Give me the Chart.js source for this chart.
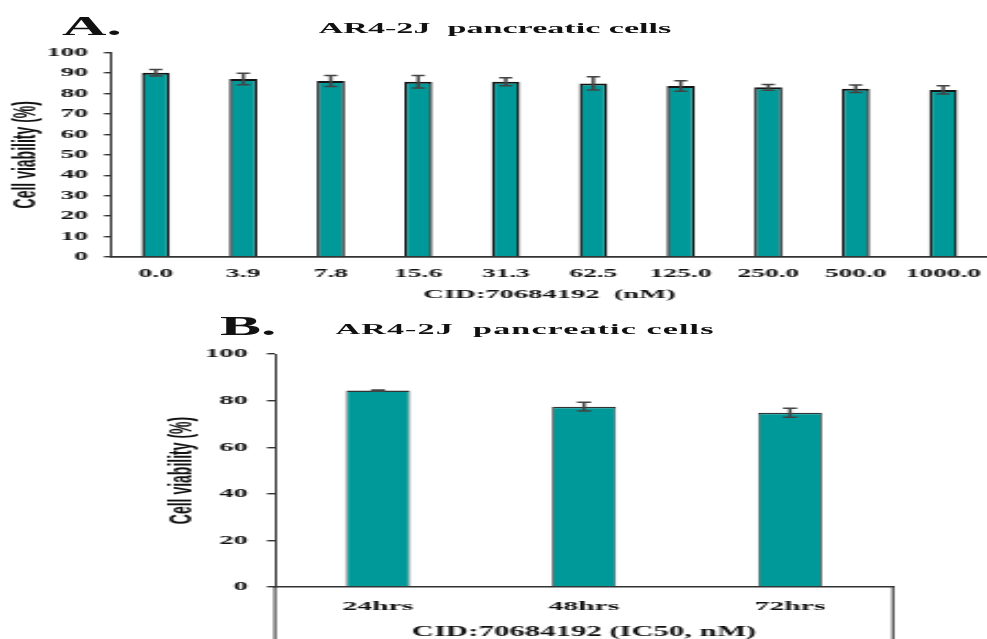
<!DOCTYPE html>
<html lang="en">
<head>
  <meta charset="UTF-8" />
  <title>AR4-2J pancreatic cells - cell viability</title>
  <script src="https://cdn.jsdelivr.net/npm/chart.js"></script>
  <style>
    * { box-sizing: border-box; }
    body {
      margin: 0;
      width: 987px; height: 639px;
      overflow: hidden;
      background: #fff;
      position: relative;
      font-family: 'Liberation Serif', 'Times New Roman', serif;
    }
    canvas { position: absolute; left: 0; }
    #chartA { top: 0; width: 987px; height: 305px; }
    #chartB { top: 300px; width: 987px; height: 345px; }

    /* the source figure is stretched sideways, so the text is too */
    .lbl {
      position: absolute;
      white-space: nowrap;
      font-weight: bold;
      line-height: 1;
      color: #111;
    }
    .panel { font-size: 28px; transform: scaleX(2.2); transform-origin: left center; }
    .ttl { font-size: 15.5px; transform: translateX(-50%) scaleX(2.2); }
  </style>
</head>
<body>
  <canvas id="chartA" width="449" height="305" style="width:987px;height:305px"></canvas>
  <canvas id="chartB" width="449" height="345" style="width:987px;height:345px"></canvas>

  <div class="lbl panel" style="left:62px; top:12px">A.</div>
  <div class="lbl ttl" style="left:495px; top:20px">AR4-2J&nbsp; pancreatic cells</div>
  <div class="lbl panel" style="left:220px; top:312px">B.</div>
  <div class="lbl ttl" style="left:525px; top:321px; letter-spacing:0.5px">AR4-2J&nbsp; pancreatic cells</div>

<script>
  // panel A: dose response
  const concLabels = ['0.0', '3.9', '7.8', '15.6', '31.3', '62.5', '125.0', '250.0', '500.0', '1000.0'];
  const viabilityA = [90.1, 87.0, 86.1, 85.7, 85.7, 84.9, 83.6, 83.0, 82.3, 81.7];
  const errorA = [1.6, 2.8, 2.7, 3.1, 2.0, 3.2, 2.6, 1.4, 1.8, 2.0];

  // panel B: time course at IC50
  const timeLabels = ['24hrs', '48hrs', '72hrs'];
  const viabilityB = [84.3, 77.4, 74.8];
  const errorB = [0.3, 1.9, 1.9];

  const S = 987 / 449;          // horizontal stretch of the canvases
  const px = v => v / S;        // css x -> canvas x

  const TEAL = '#009999';
  const SERIF = "'Liberation Serif', 'Times New Roman', serif";
  Chart.defaults.font.family = SERIF;
  Chart.defaults.color = '#111';

  // draws mean +/- sd whiskers on top of the bars
  const errorBars = {
    id: 'errorBars',
    afterDatasetsDraw(chart, args, opts) {
      const { ctx } = chart;
      const y = chart.scales.y;
      const ds = chart.data.datasets[0];
      const meta = chart.getDatasetMeta(0);
      ctx.save();
      ctx.strokeStyle = opts.color;
      ctx.lineWidth = opts.lineWidth;
      meta.data.forEach((bar, i) => {
        const v = ds.data[i], e = opts.values[i];
        const hi = y.getPixelForValue(v + e);
        const lo = y.getPixelForValue(v - e);
        ctx.beginPath();
        ctx.moveTo(bar.x, hi); ctx.lineTo(bar.x, lo);
        ctx.moveTo(bar.x - opts.cap, hi); ctx.lineTo(bar.x + opts.cap, hi);
        ctx.moveTo(bar.x - opts.cap, lo); ctx.lineTo(bar.x + opts.cap, lo);
        ctx.stroke();
      });
      ctx.restore();
    }
  };

  // the box under the x axis in panel B
  const axisBox = {
    id: 'axisBox',
    afterDraw(chart, args, opts) {
      const { ctx, chartArea: a, height } = chart;
      ctx.save();
      ctx.strokeStyle = opts.color;
      ctx.lineWidth = opts.width;
      ctx.beginPath();
      ctx.moveTo(a.left, a.bottom); ctx.lineTo(a.left, height);
      ctx.moveTo(a.right, a.bottom); ctx.lineTo(a.right, height);
      ctx.stroke();
      ctx.restore();
    }
  };

  function makeChart(id, cfg) {
    const h = document.getElementById(id).height;
    return new Chart(document.getElementById(id), {
      type: 'bar',
      data: {
        labels: cfg.labels,
        datasets: [{
          data: cfg.values,
          backgroundColor: TEAL,
          borderColor: cfg.barBorder,
          borderWidth: cfg.borderWidth,
          borderSkipped: 'bottom',
          categoryPercentage: 1,
          barPercentage: cfg.barPct
        }]
      },
      plugins: cfg.plugins,
      options: {
        responsive: false,
        devicePixelRatio: 1,
        animation: false,
        layout: { padding: cfg.padding },
        plugins: {
          legend: { display: false },
          tooltip: { enabled: false },
          title: { display: false },
          errorBars: cfg.errorBars,
          axisBox: { color: '#444', width: 1.2 }
        },
        scales: {
          x: {
            grid: { display: false, drawTicks: false },
            border: { display: true, color: '#333', width: cfg.xBorder },
            ticks: {
              autoSkip: false, maxRotation: 0, minRotation: 0,
              padding: cfg.xTickPad,
              font: { size: cfg.xTickSize, weight: 'bold', lineHeight: 1.2 },
              color: '#111'
            },
            title: {
              display: true,
              text: cfg.xTitle,
              font: { size: cfg.xTitleSize, weight: 'bold', lineHeight: 1.2 },
              padding: { top: 0, bottom: cfg.xTitlePad },
              color: '#111'
            },
            afterFit(scale) {
              scale.height = h - cfg.bottom;
              scale.paddingLeft = 0;
              scale.paddingRight = 0;
            }
          },
          y: {
            min: 0, max: 100,
            grid: {
              display: true, drawOnChartArea: false, drawTicks: true,
              tickLength: px(8), color: '#333', lineWidth: 1.4
            },
            border: { display: true, color: '#333', width: 1 },
            ticks: {
              stepSize: cfg.step,
              padding: cfg.yTickPad,
              font: { size: cfg.yTickSize, weight: 'bold' },
              color: '#111'
            },
            title: {
              display: true,
              text: 'Cell viability (%)',
              font: { family: "'Liberation Sans', Arial, sans-serif", size: 14, weight: 'bold', lineHeight: 1.2 },
              padding: { top: cfg.yTitlePad, bottom: 0 },
              color: '#111'
            },
            afterFit(scale) {
              scale.width = cfg.left;
              scale.paddingTop = 0;
              scale.paddingBottom = 0;
            }
          }
        }
      }
    });
  }

  // panel A
  makeChart('chartA', {
    labels: concLabels,
    values: viabilityA,
    barBorder: '#151515',
    borderWidth: { top: 2, left: 1.4, right: 1.4, bottom: 0 },
    barPct: 0.32,
    padding: { top: 52.5, left: 0, right: 0, bottom: 0 },
    left: px(112),
    bottom: 257,
    step: 10,
    xBorder: 1.8,
    xTickPad: 9, xTickSize: 12.5,
    xTitle: 'CID:70684192  (nM)', xTitleSize: 13, xTitlePad: 2.6,
    yTickPad: px(112) - px(8) - px(88), yTickSize: 12.5,
    yTitlePad: px(27) - 8.4,
    errorBars: { values: errorA, color: '#444', lineWidth: 1.5, cap: 3 },
    plugins: [errorBars]
  });

  // panel B (canvas starts at y=300)
  makeChart('chartB', {
    labels: timeLabels,
    values: viabilityB,
    barBorder: '#333',
    borderWidth: { top: 1.5, left: 0.8, right: 0.8, bottom: 0 },
    barPct: 0.31,
    padding: { top: 54, left: 0, right: 449 - px(893), bottom: 0 },
    left: px(275),
    bottom: 287,
    step: 20,
    xBorder: 1.5,
    xTickPad: 11, xTickSize: 13.5,
    xTitle: 'CID:70684192 (IC50, nM)', xTitleSize: 14, xTitlePad: 4.6,
    yTickPad: px(275) - px(8) - px(248), yTickSize: 13,
    yTitlePad: px(182) - 8.4,
    errorBars: { values: errorB, color: '#444', lineWidth: 1.5, cap: 3.2 },
    plugins: [errorBars, axisBox]
  });
</script>
</body>
</html>
